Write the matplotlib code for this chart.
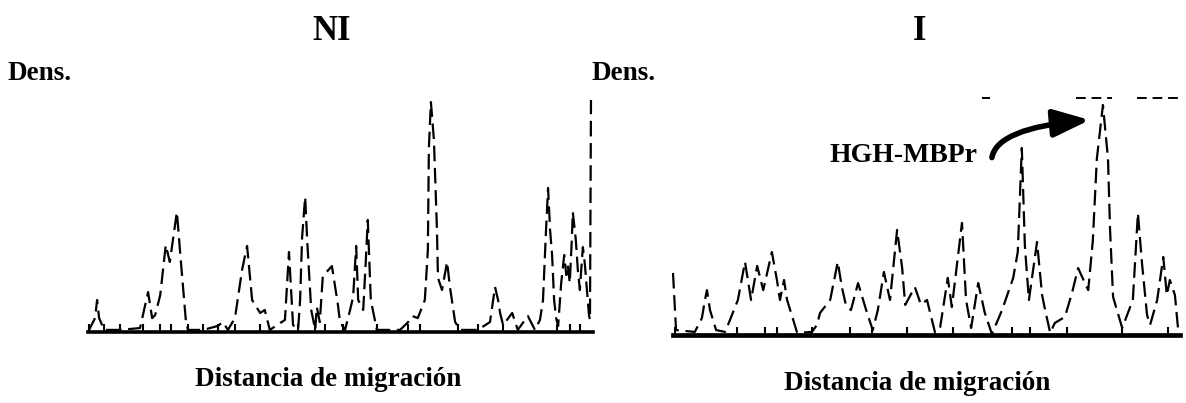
import matplotlib
matplotlib.use("Agg")
import matplotlib.pyplot as plt

# ---- data (relative units: distance 0-100, density 0-100) ----
ni_distance = [0, 1.4, 1.8, 2.2, 3.2, 6.3, 10.3, 11.9, 12.7, 13.3, 14.3, 15.4, 16.2, 17.6, 18.4,
               19.4, 19.8, 22.8, 25.7, 26.7, 27.7, 29.1, 30.5, 31.5, 32.5, 33.1, 34.1, 35.0, 36.0,
               39.0, 39.8, 40.6, 41.6, 42.0, 42.4, 43.0, 43.4, 44.2, 45.0, 45.3, 45.9, 46.5, 48.3,
               49.5, 49.9, 50.9, 51.9, 52.5, 53.1, 53.5, 54.5, 55.0, 55.4, 56.0, 57.2, 61.8, 63.4,
               64.2, 65.3, 66.7, 67.3, 67.5, 67.9, 68.5, 69.1, 69.3, 70.1, 71.1, 71.7, 72.7, 73.7,
               77.2, 79.6, 80.6, 81.2, 81.6, 82.2, 84.0, 85.1, 87.1, 88.5, 89.5, 90.1, 90.7, 91.1,
               91.5, 91.9, 92.3, 92.7, 93.1, 93.7, 94.3, 94.7, 95.0, 95.4, 95.8, 96.0, 96.6, 97.0,
               97.4, 97.8, 98.0, 98.4, 98.8, 99.2, 99.4, 99.6]
ni_density = [0, 6.0, 13.8, 6.0, 0.9, 0.9, 1.7, 17.2, 6.0, 7.3, 15.9, 37.5, 30.2, 51.7, 30.2,
              4.3, 0.9, 0.9, 2.6, 4.3, 0.9, 6.0, 26.7, 37.1, 13.8, 11.6, 8.2, 9.5, 0.9,
              5.2, 34.5, 3.0, 0.9, 13.8, 40.9, 58.2, 39.7, 9.5, 0.9, 10.8, 4.3, 24.1, 28.4,
              11.6, 4.3, 0.9, 9.5, 15.1, 37.1, 13.8, 9.5, 30.2, 48.3, 13.8, 0.9, 0.9, 4.3,
              6.9, 6.0, 13.8, 35.3, 79.3, 99.1, 82.8, 44.0, 23.3, 18.1, 30.2, 19.0, 4.3, 0.9,
              0.9, 4.3, 19.4, 13.8, 8.2, 3.0, 8.2, 0.9, 6.9, 0.9, 5.2, 13.8, 44.0, 62.1,
              44.0, 33.2, 13.8, 6.0, 2.6, 21.1, 33.2, 24.6, 28.9, 21.1, 39.7, 51.7, 39.7, 26.7,
              18.1, 31.0, 36.6, 28.9, 18.1, 7.3, 5.2, 100]
ni_ticks = [0.2, 3.2, 6.3, 10.9, 14.3, 16.4, 19.8, 22.8, 25.7, 29.1, 34.1, 41.6, 45.0, 47.0,
            50.5, 57.2, 63.4, 65.7, 73.3, 77.2, 82.2, 92.9, 95.4, 97.4]

i_distance = [0, 0.6, 4.3, 5.7, 6.3, 6.7, 7.3, 8.5, 10.3, 12.8, 14.2, 15.4, 16.6, 17.8, 19.5,
              20.5, 21.1, 21.9, 22.5, 24.5, 27.4, 28.4, 29.0, 31.0, 32.5, 33.3, 34.1, 35.1, 36.5,
              38.1, 39.4, 40.4, 41.6, 42.8, 44.2, 45.2, 45.8, 47.7, 48.9, 50.1, 51.7, 52.7, 54.2,
              55.0, 57.0, 57.8, 58.8, 60.2, 61.5, 62.9, 64.9, 67.1, 68.0, 68.8, 69.4, 70.2, 71.8,
              72.8, 73.4, 74.4, 75.3, 77.3, 78.7, 79.9, 80.7, 81.9, 82.8, 83.6, 84.8, 85.8, 86.2,
              86.8, 88.6, 90.7, 91.7, 92.5, 93.5, 94.1, 95.5, 96.7, 97.4, 98.0, 99.0, 99.6, 100]
i_density = [26.4, 2.1, 1.3, 7.2, 14.9, 19.1, 10.6, 2.1, 1.3, 14.9, 31.1, 14.9, 29.4, 19.1, 35.3,
             23.4, 14.9, 23.4, 14.9, 0.9, 1.3, 4.3, 9.4, 14.9, 31.1, 20.4, 12.8, 10.6, 22.1,
             10.6, 2.1, 10.6, 26.8, 14.9, 44.7, 28.5, 12.8, 20.4, 13.0, 14.9, 0.9, 3.4, 24.3,
             11.9, 47.7, 14.9, 3.0, 22.1, 9.4, 0.4, 10.6, 24.3, 35.3, 79.6, 38.0, 14.9, 39.6,
             17.0, 10.6, 0.9, 5.1, 7.7, 17.9, 28.5, 24.7, 19.1, 40.0, 75.0, 97.9, 75.0, 45.0,
             16.2, 3.0, 14.9, 51.9, 30.6, 8.5, 4.3, 14.9, 33.2, 17.0, 23.4, 17.0, 3.0, 0.9]
i_ticks = [0.4, 12.6, 18.1, 20.5, 27.4, 34.9, 39.3, 46.2, 55.2, 66.9, 70.4, 77.7, 88.6, 97.6]
# dashed saturation marks near the top of panel I (start, end)
i_top_level = 101
i_top_segments = [(61.0, 62.5), (79.5, 86.5), (91.5, 100.0)]

titles = ["NI", "I"]
ylabel = "Dens."
xlabel = "Distancia de migración"
annotation = "HGH-MBPr"
annot_peak = (82.2, 91.5)     # arrow tip (distance, density)
annot_from = (62.9, 75.5)     # arrow start

# ---- figure ----
plt.rcParams['font.family'] = ['Liberation Serif', 'DejaVu Serif']
fig = plt.figure(figsize=(11.86, 4.03), dpi=100)

ax1 = fig.add_axes([88 / 1186, 71 / 403, 505 / 1186, 232 / 403])
ax2 = fig.add_axes([673 / 1186, 68 / 403, 507 / 1186, 235 / 403])

line_kw = dict(color='black', lw=1.6, linestyle=(0, (7, 3)), clip_on=False)
ax1.plot(ni_distance, ni_density, **line_kw)
ax2.plot(i_distance, i_density, **line_kw)
for a, b in i_top_segments:
    ax2.hlines(i_top_level, a, b, color='black', lw=1.4,
               linestyles=(0, (5, 3)), clip_on=False)

for ax, ticks, bw in [(ax1, ni_ticks, 2.6), (ax2, i_ticks, 3.4)]:
    ax.set_xlim(0, 100)
    ax.set_ylim(0, 100)
    for s in ['top', 'right', 'left']:
        ax.spines[s].set_visible(False)
    ax.spines['bottom'].set_linewidth(bw)
    ax.set_xticks(ticks)
    ax.set_yticks([])
    ax.tick_params(axis='x', direction='in', length=6, width=1.5,
                   labelbottom=False, color='black')
    ax.patch.set_alpha(0)

# titles and labels
fig.text(332 / 1186, 1 - 32 / 403, titles[0], ha='center', va='center',
         fontsize=25, fontweight='bold')
fig.text(920 / 1186, 1 - 32 / 403, titles[1], ha='center', va='center',
         fontsize=25, fontweight='bold')
fig.text(7 / 1186, 1 - 73 / 403, ylabel, ha='left', va='center',
         fontsize=19.5, fontweight='bold')
fig.text(592 / 1186, 1 - 73 / 403, ylabel, ha='left', va='center',
         fontsize=19.5, fontweight='bold')
fig.text(328 / 1186, 1 - 379 / 403, xlabel, ha='center', va='center',
         fontsize=19.5, fontweight='bold')
fig.text(917 / 1186, 1 - 383 / 403, xlabel, ha='center', va='center',
         fontsize=19.5, fontweight='bold')

fig.text(904 / 1186, 1 - 155 / 403, annotation, ha='center', va='center',
         fontsize=20, fontweight='bold')
ax2.annotate('', xy=annot_peak, xytext=annot_from,
             arrowprops=dict(arrowstyle='-|>,head_length=1.1,head_width=0.42',
                             mutation_scale=20, lw=4, color='black',
                             shrinkA=0, shrinkB=0,
                             connectionstyle='angle3,angleA=80,angleB=5'),
             annotation_clip=False)

fig.savefig('out.png', dpi=100)
